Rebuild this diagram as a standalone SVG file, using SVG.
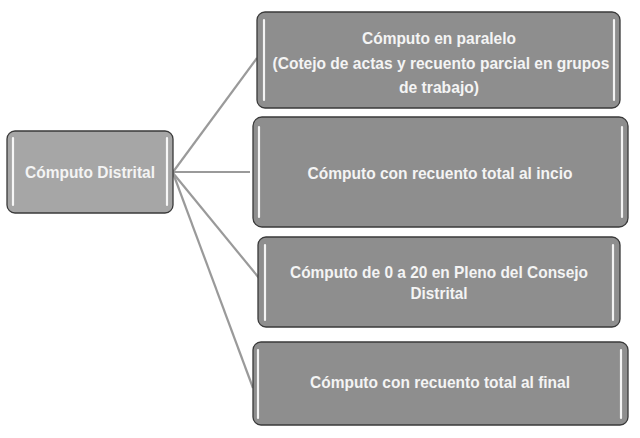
<svg xmlns="http://www.w3.org/2000/svg" width="640" height="438" viewBox="0 0 640 438">
<style>
.box{fill:#8e8e8e;stroke:#3a3a3a;stroke-width:1.3}
.root{fill:#a6a6a6}
.hl{stroke:#ffffff;stroke-width:2.2;stroke-linecap:round;opacity:0.9}
.conn{stroke:#9a9a9a;stroke-width:2.2;fill:none}
text{font-family:"Liberation Sans",Arial,sans-serif;font-weight:bold;font-size:17px;fill:#f4f4f4;text-anchor:middle}
</style>
<rect width="640" height="438" fill="#ffffff"/>
<g id="connectors">
<line class="conn" x1="173" y1="172" x2="257" y2="58"/>
<line class="conn" x1="173" y1="172" x2="250" y2="172"/>
<line class="conn" x1="173" y1="173" x2="259" y2="278"/>
<line class="conn" x1="173" y1="173" x2="253" y2="388"/>
</g>
<g id="root">
<rect class="box root" x="7" y="131" width="166" height="82" rx="8"/>
<line class="hl" x1="13" y1="138" x2="13" y2="205"/>
<line class="hl" x1="167" y1="138" x2="167" y2="205"/>
<text x="90" y="178" textLength="130" lengthAdjust="spacingAndGlyphs">Cómputo Distrital</text>
</g>
<g id="n1">
<rect class="box" x="257" y="12" width="363" height="96" rx="8"/>
<line class="hl" x1="264" y1="20" x2="264" y2="100"/>
<line class="hl" x1="614" y1="20" x2="614" y2="100"/>
<text x="439" y="44" textLength="154" lengthAdjust="spacingAndGlyphs">Cómputo en paralelo</text>
<text x="441" y="69" textLength="337" lengthAdjust="spacingAndGlyphs">(Cotejo de actas y recuento parcial en grupos</text>
<text x="439" y="93" textLength="80" lengthAdjust="spacingAndGlyphs">de trabajo)</text>
</g>
<g id="n2">
<rect class="box" x="253" y="117" width="375" height="110" rx="9"/>
<line class="hl" x1="259" y1="127" x2="259" y2="217"/>
<line class="hl" x1="622" y1="127" x2="622" y2="217"/>
<text x="440" y="179" textLength="265" lengthAdjust="spacingAndGlyphs">Cómputo con recuento total al incio</text>
</g>
<g id="n3">
<rect class="box" x="258" y="237" width="362" height="90" rx="8"/>
<line class="hl" x1="265" y1="245" x2="265" y2="320"/>
<line class="hl" x1="613" y1="245" x2="613" y2="320"/>
<text x="439" y="278" textLength="298" lengthAdjust="spacingAndGlyphs">Cómputo de 0 a 20 en Pleno del Consejo</text>
<text x="439" y="299" textLength="57" lengthAdjust="spacingAndGlyphs">Distrital</text>
</g>
<g id="n4">
<rect class="box" x="253" y="342" width="375" height="83" rx="8"/>
<line class="hl" x1="258" y1="350" x2="258" y2="418"/>
<line class="hl" x1="621" y1="350" x2="621" y2="418"/>
<text x="440" y="388" textLength="260" lengthAdjust="spacingAndGlyphs">Cómputo con recuento total al final</text>
</g>
</svg>
